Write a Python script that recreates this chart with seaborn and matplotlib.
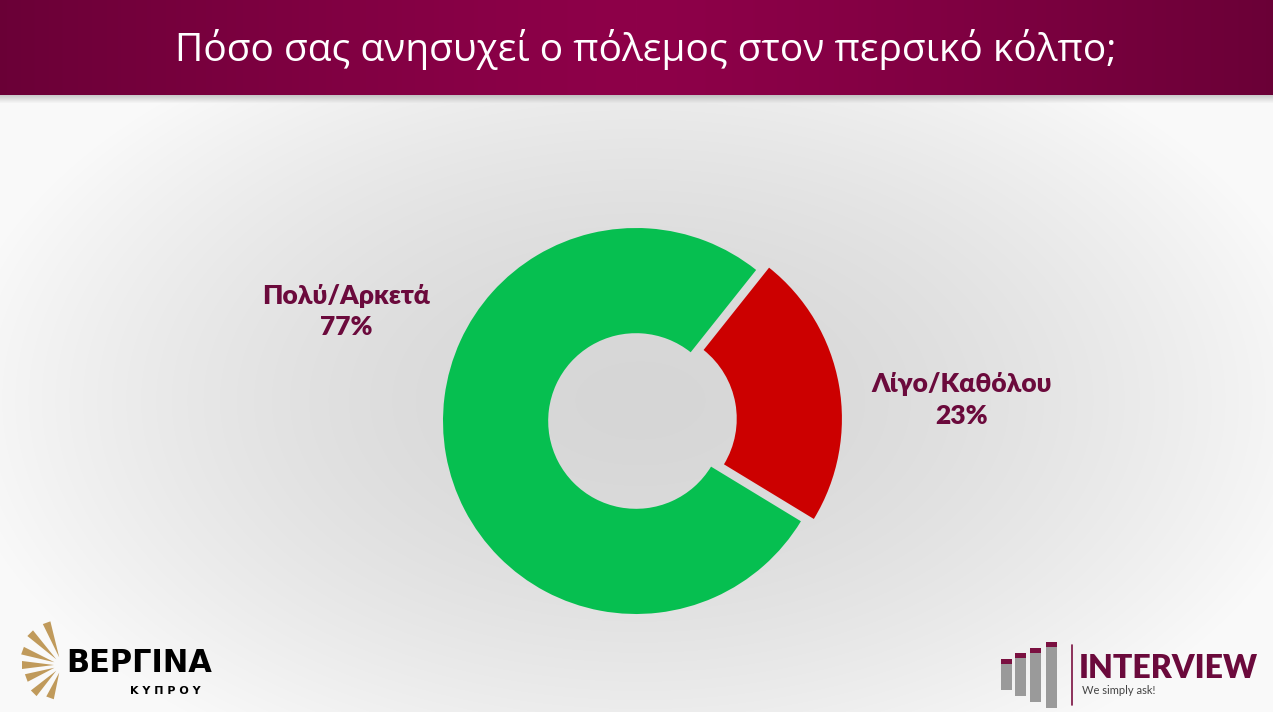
import numpy as np
import matplotlib
matplotlib.use("Agg")
import matplotlib.pyplot as plt
import seaborn as sns
from matplotlib.patches import Rectangle, Polygon

# data
labels = ["Πολύ/Αρκετά", "Λίγο/Καθόλου"]
values = [77, 23]
title = "Πόσο σας ανησυχεί ο πόλεμος στον περσικό κόλπο;"

sns.set_theme(style="white")
plt.rcParams["font.family"] = ["Lato", "DejaVu Sans"]

W, H = 1273, 712
fig = plt.figure(figsize=(W / 100, H / 100), dpi=100)

# background: grey in the middle, lighter towards the edges
bg = fig.add_axes([0, 0, 1, 1])
yy, xx = np.mgrid[0:H, 0:W]
d = np.sqrt(((xx - 640) / 700.0) ** 2 + ((yy - 400) / 420.0) ** 2)
g = 0.84 + 0.14 * np.clip(d, 0, 1) ** 1.6
img = np.dstack([g, g, g])
# header band
hx = np.abs(np.arange(W) - 636) / 636.0
band = np.array([0x8e, 0x00, 0x49]) / 255.0 * (1 - 0.25 * hx[:, None] ** 1.3)
img[0:95, :, :] = band[None, :, :]
for i in range(8):
    a = 0.35 * (1 - i / 8)
    img[95 + i, :, :] = img[95 + i, :, :] * (1 - a) + 0.45 * a
bg.imshow(img, extent=[0, W, H, 0], aspect="auto")
bg.set_xlim(0, W)
bg.set_ylim(H, 0)
bg.axis("off")

bg.text(646, 50, title, color="white", fontsize=28, fontweight="normal",
        family=["Open Sans", "DejaVu Sans"], ha="center", va="center")

# donut
cx, cy, r = 636, 421, 193
side = 2 * r * 1.25
ax = fig.add_axes([(cx - side / 2) / W, (H - cy - side / 2) / H, side / W, side / H])
colors = ["#06bf50", "#cc0000"]
ax.pie(values, colors=colors, startangle=51.5, explode=[0, 0.068],
       wedgeprops=dict(width=0.545, edgecolor="none"))
ax.set_xlim(-1.25, 1.25)
ax.set_ylim(-1.25, 1.25)
ax.set_aspect("equal")
ax.axis("off")

lab_col = "#6b0a3c"
lab_kw = dict(color=lab_col, fontsize=19, fontweight="heavy", ha="center", va="center")
bg.text(346, 296, labels[0], **lab_kw)
bg.text(346, 327, f"{values[0]}%", **lab_kw)
bg.text(962, 384, labels[1], **lab_kw)
bg.text(962, 416, f"{values[1]}%", **lab_kw)

# ΒΕΡΓΙΝΑ logo (rough)
gold = "#c09a5b"
ox, oy = 62, 665
for ang, ln in [(110, 45), (135, 45), (160, 42), (180, 40), (200, 38), (225, 40), (250, 35)]:
    t = np.deg2rad(ang)
    x1, y1 = ox + 8 * np.cos(t), oy - 8 * np.sin(t)
    x2, y2 = ox + ln * np.cos(t), oy - ln * np.sin(t)
    nx, ny = -np.sin(t) * 4, -np.cos(t) * 4
    bg.add_patch(Polygon([(x1, y1), (x2 + nx, y2 + ny), (x2 - nx, y2 - ny)],
                         closed=True, color=gold, lw=0))
bg.text(66, 664, "ΒΕΡΓΙΝΑ", color="black", fontsize=22, fontweight="heavy",
        family=["DejaVu Sans"], ha="left", va="center")
bg.text(130, 691, "Κ Υ Π Ρ Ο Υ", color="black", fontsize=8, fontweight="bold",
        family=["DejaVu Sans"], ha="left", va="center")

# INTERVIEW logo (rough)
for i, (bx, top) in enumerate([(1001, 663), (1015, 657), (1030, 652), (1046, 646)]):
    bg.add_patch(Rectangle((bx, top), 11, 6 * i + (690 - top), color="#9a9a9a", lw=0))
    bg.add_patch(Rectangle((bx, top - 4), 11, 5, color="#7a1040", lw=0))
bg.plot([1072, 1072], [645, 705], color="#7a1040", lw=1.2)
bg.text(1079, 668, "INTERVIEW", color="#6b0a3c", fontsize=23, fontweight="heavy",
        ha="left", va="center")
bg.text(1082, 691, "We simply ask!", color="#444444", fontsize=8, ha="left", va="center")

fig.savefig("out.png", dpi=100)
